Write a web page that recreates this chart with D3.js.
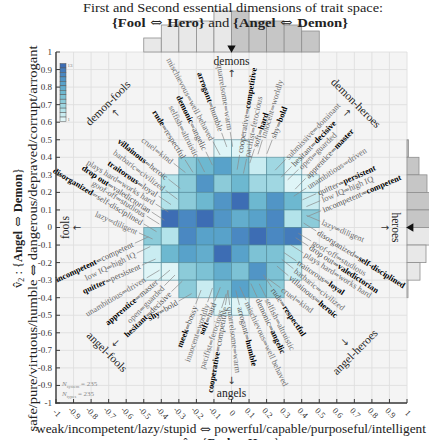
<!DOCTYPE html>
<html><head><meta charset="utf-8">
<script src="https://cdn.jsdelivr.net/npm/d3@7"></script>
<style>body{margin:0;background:#fff}svg{display:block}text{font-family:"Liberation Serif","DejaVu Serif",serif}.arr{font-family:"DejaVu Serif",serif}</style>
</head><body><svg id="c" width="429" height="440"></svg>
<script>
// ---------- data ----------
const tickValues = [-1,-0.9,-0.8,-0.7,-0.6,-0.5,-0.4,-0.3,-0.2,-0.1,0,0.1,0.2,0.3,0.4,0.5,0.6,0.7,0.8,0.9,1];
const tickLabels = ["-1","-0.9","-0.8","-0.7","-0.6","-0.5","-0.4","-0.3","-0.2","-0.1","0","0.1","0.2","0.3","0.4","0.5","0.6","0.7","0.8","0.9","1"];
const binEdges = [-0.5,-0.4,-0.3,-0.2,-0.1,0,0.1,0.2,0.3,0.4,0.5];
// heatmap counts, rows from top (v2 = 0.5..0.4) to bottom, columns from v1=-0.5 to 0.5
const heatCounts = [
  [0,0,0,0,1,1,0,0,0,0],
  [0,0,5,7,9,6,2,4,1,0],
  [0,3,5,10,5,7,4,4,1,1],
  [0,3,5,7,10,13,7,10,7,2],
  [0,13,11,13,10,8,9,11,3,5],
  [5,3,11,9,9,11,13,11,12,0],
  [2,7,9,8,13,9,6,6,3,0],
  [1,1,5,6,8,6,10,6,2,0],
  [0,0,5,2,6,9,7,5,0,0],
  [0,0,0,0,1,1,0,0,0,0]
];
const histTop = [14,27,31,31,41,41,31,31,27,21];      // per v1 bin
const histRight = [1.5,12,20,35,41,38,19,13,1,0];     // per v2 bin, top to bottom
const colorLevels = [13,12,11,10,9,8,7,6,5,4,3,2,1];
// trait pairs: [pole A, pole B, emphasised]
const pairs = [
  ["mischievous","well behaved",false],
  ["demonic","angelic",true],
  ["selfish","altruistic",false],
  ["arrogant","humble",true],
  ["quarrelsome","warm",false],
  ["rude","respectful",true],
  ["cruel","kind",false],
  ["villainous","heroic",true],
  ["barbaric","civilized",false],
  ["traitorous","loyal",true],
  ["plays hard","works hard",false],
  ["drop out","valedictorian",true],
  ["goof-off","studious",false],
  ["disorganized","self-disciplined",true],
  ["lazy","diligent",false],
  ["incompetent","competent",true],
  ["low IQ","high IQ",false],
  ["quitter","persistent",true],
  ["unambitious","driven",false],
  ["apprentice","master",true],
  ["open","guarded",false],
  ["hesitant","decisive",true],
  ["shy","bold",true],
  ["meek","bossy",true],
  ["innocent","worldly",false],
  ["soft","hard",true],
  ["pacifist","ferocious",false],
  ["cooperative","competitive",true],
  ["submissive","dominant",false]
];
// label placement of the "A ⇐ B" copy: [v1, v2, angle]  (null = not shown)
const placeA = [
  [-0.111,0.499,62],[-0.151,0.442,64],[-0.197,0.402,63],[-0.060,0.550,70],[-0.009,0.556,81],
  [-0.271,0.396,58],[-0.339,0.373,38],[-0.368,0.282,38],[-0.385,0.219,37],[-0.425,0.185,34],
  [-0.442,0.140,32],[-0.464,0.094,33],[-0.493,0.071,32],[-0.510,0.026,31],[-0.538,-0.026,24],
  [-0.561,-0.094,-25],[-0.550,-0.151,-26],[-0.521,-0.219,-24],[-0.493,-0.293,-31],[-0.425,-0.305,-40],
  [-0.390,-0.339,-45],[-0.350,-0.373,-44],[-0.311,-0.425,-30],[-0.208,-0.447,-69],[-0.140,-0.436,-71],
  [-0.100,-0.430,-68],[-0.060,-0.470,-72],[-0.037,-0.453,-80],null
];
// label placement of the "A ⇒ B" copy
const placeB = [
  [0.088,-0.425,65],[0.151,-0.407,65],[0.202,-0.407,63],[0.048,-0.453,76],[-0.009,-0.453,83],
  [0.236,-0.350,56],[0.288,-0.350,36],[0.333,-0.282,40],[0.362,-0.242,38.5],[0.379,-0.197,34],
  [0.419,-0.151,32.5],[0.447,-0.111,33],[0.464,-0.083,31],[0.493,-0.026,32],[0.516,0.031,23],
  [0.521,0.100,-23],[0.516,0.157,-23],[0.493,0.197,-24],[0.436,0.231,-33],[0.430,0.288,-46],
  [0.390,0.339,-44],[0.350,0.356,-46],[0.236,0.510,-69],null,[0.179,0.510,-73],
  [0.134,0.459,-72],[0.088,0.402,-78],[0.048,0.425,-80.6],[0.316,0.396,-46]
];

// ---------- scales ----------
const svg = d3.select("#c");
const xs = d3.scaleLinear().domain([-1,1]).range([56,407]);
const ys = d3.scaleLinear().domain([-1,1]).range([403,52]);
const color = d3.scaleLinear().domain([1,3,5,7,9,11,13])
  .range(["#dff5f7","#b3e3ea","#8ccbd9","#6db8d0","#58a2ca","#4a88c2","#3d6db4"]);
const histScale = d3.scaleLinear().domain([0,41]).range([0,41]);

// background + grid
svg.append("rect").attr("x",xs(-1)).attr("y",ys(1)).attr("width",xs(1)-xs(-1)).attr("height",ys(-1)-ys(1)).attr("fill","#f4f4f4");
const grid = svg.append("g").attr("stroke","#dfdfdf").attr("stroke-width",0.9);
tickValues.forEach(v=>{
  grid.append("line").attr("x1",xs(v)).attr("x2",xs(v)).attr("y1",ys(-1)).attr("y2",ys(1));
  grid.append("line").attr("y1",ys(v)).attr("y2",ys(v)).attr("x1",xs(-1)).attr("x2",xs(1));
});

// marginal histograms
const gh = svg.append("g").attr("stroke","#8e8e8e").attr("stroke-width",0.8);
histTop.forEach((h,i)=>{
  gh.append("rect").attr("x",xs(binEdges[i])).attr("width",xs(binEdges[i+1])-xs(binEdges[i]))
    .attr("y",ys(1)-histScale(h)).attr("height",histScale(h))
    .attr("fill", binEdges[i]>=0 ? "#c6c6c6" : "#e8e8e8");
});
histRight.forEach((h,i)=>{
  if(h<=0) return;
  const yTop = binEdges[10-i], yBot = binEdges[9-i];
  gh.append("rect").attr("x",xs(1)).attr("width",histScale(h))
    .attr("y",ys(yTop)).attr("height",ys(yBot)-ys(yTop))
    .attr("fill", yBot>=0 ? "#c6c6c6" : "#e8e8e8");
});
svg.append("path").attr("d",d3.symbol(d3.symbolTriangle,30)())
  .attr("transform",`translate(${xs(0)},${ys(1)-4}) rotate(180)`).attr("fill","#111");
svg.append("path").attr("d",d3.symbol(d3.symbolTriangle,30)())
  .attr("transform",`translate(${xs(1)+4},${ys(0)}) rotate(-90)`).attr("fill","#111");

// heatmap
const gm = svg.append("g");
heatCounts.forEach((row,r)=>{
  row.forEach((c,k)=>{
    if(!c) return;
    const yTop = binEdges[10-r], yBot = binEdges[9-r];
    gm.append("rect").attr("x",xs(binEdges[k])).attr("width",xs(binEdges[k+1])-xs(binEdges[k]))
      .attr("y",ys(yTop)).attr("height",ys(yBot)-ys(yTop))
      .attr("fill",color(c)).attr("stroke","#4f8796").attr("stroke-opacity",0.65).attr("stroke-width",0.9);
  });
});

// trait labels
const gLead = svg.append("g").attr("stroke","#8a8a8a").attr("stroke-width",0.7);
const gLab = svg.append("g").style("font-size","8.4px");
function drawLabel(pl, pr, side){
  if(!pl) return;
  const [x,y,a] = pl, px = xs(x), py = ys(y);
  const t = gLab.append("text").attr("transform",`translate(${px},${py}) rotate(${a})`)
    .attr("text-anchor", side<0 ? "end" : "start").attr("dy","0.33em");
  const bA = pr[2] && side<0, bB = pr[2] && side>0;
  const reg = pr[2] ? "#555" : "#6e6e6e";
  t.append("tspan").text(pr[0]).attr("font-weight",bA?"bold":null).attr("fill",bA?"#000":reg);
  t.append("tspan").attr("class","arr").text(side<0?"\u21D0":"\u21D2").attr("fill",reg).style("font-size","7px");
  t.append("tspan").text(pr[1]).attr("font-weight",bB?"bold":null).attr("fill",bB?"#000":reg);
  const rad = a*Math.PI/180, dir = side<0 ? 1 : -1;
  const ux = Math.cos(rad)*dir, uy = Math.sin(rad)*dir;
  gLead.append("line").attr("x1",px+ux*2).attr("y1",py+uy*2).attr("x2",px+ux*17).attr("y2",py+uy*17);
}
pairs.forEach((p,i)=>{ drawLabel(placeA[i],p,-1); drawLabel(placeB[i],p,1); });

// axes
const ax = svg.append("g").attr("stroke","#3a3a3a").attr("stroke-width",1.4);
ax.append("line").attr("x1",xs(-1)).attr("x2",xs(-1)).attr("y1",ys(1)).attr("y2",ys(-1)+0.7);
ax.append("line").attr("x1",xs(-1)-0.7).attr("x2",xs(1)).attr("y1",ys(-1)).attr("y2",ys(-1));
tickValues.forEach((v,i)=>{
  ax.append("line").attr("x1",xs(-1)).attr("x2",xs(-1)+4).attr("y1",ys(v)).attr("y2",ys(v)).attr("stroke-width",1);
  ax.append("line").attr("x1",xs(v)).attr("x2",xs(v)).attr("y1",ys(-1)).attr("y2",ys(-1)-4).attr("stroke-width",1);
  svg.append("text").attr("x",xs(-1)-4).attr("y",ys(v)).attr("dy","0.33em").attr("text-anchor","end")
    .style("font-size","9px").attr("fill","#333").text(tickLabels[i]);
  svg.append("text").attr("transform",`translate(${xs(v)+1},${ys(-1)+10}) rotate(45)`).attr("dy","0.33em")
    .attr("text-anchor","middle").style("font-size","8.5px").attr("fill","#333").text(tickLabels[i]);
});

// region labels
function regionLabel(x,y,rot,txt){
  svg.append("text").attr("transform",`translate(${xs(x)},${ys(y)}) rotate(${rot})`).attr("dy","0.33em")
    .attr("text-anchor","middle").style("font-size","11.5px").attr("fill","#222").text(txt);
}
regionLabel(-0.704,0.709,-45,"demon-fools");
regionLabel(0.709,0.709,45,"demon-heroes");
regionLabel(-0.709,-0.709,45,"angel-fools");
regionLabel(0.704,-0.709,-45,"angel-heroes");
regionLabel(0,0.949,0,"demons");
regionLabel(0,-0.943,0,"angels");
regionLabel(-0.949,0,-90,"fools");
regionLabel(0.937,0,90,"heroes");
function arrow(x,y,ch){
  svg.append("text").attr("x",xs(x)).attr("y",ys(y)).attr("dy","0.35em").attr("text-anchor","middle")
    .style("font-size","10px").attr("fill","#333").style("font-family","DejaVu Sans").text(ch);
}
arrow(-0.658,0.658,"\u2196"); arrow(0.658,0.658,"\u2197"); arrow(-0.658,-0.658,"\u2199"); arrow(0.645,-0.652,"\u2198");
arrow(0,0.88,"\u2191"); arrow(0,-0.869,"\u2193"); arrow(-0.88,0,"\u2190"); arrow(0.875,0,"\u2192");

// colour legend
const cb = svg.append("g");
const cbY = d3.scaleBand().domain(colorLevels).range([63.5,121.5]);
colorLevels.forEach(l=>{
  cb.append("rect").attr("x",60).attr("width",6).attr("y",cbY(l)).attr("height",cbY.bandwidth())
    .attr("fill",color(l)).attr("stroke","#555").attr("stroke-width",0.5);
});
cb.append("text").attr("x",67.5).attr("y",cbY(13)+3).style("font-size","5px").attr("fill","#777").text("13");
cb.append("text").attr("x",67.5).attr("y",cbY(1)+4).style("font-size","5px").attr("fill","#777").text("1");

// N labels
[["system",386],["types",396]].forEach(([s,y])=>{
  const t = svg.append("text").attr("x",62).attr("y",y).style("font-size","7px").attr("fill","#8a8a8a");
  t.append("tspan").text("N").style("font-style","italic");
  t.append("tspan").text(s).style("font-size","4.5px").attr("dy","1.5");
  t.append("tspan").text(" = 235").attr("dy","-1.5");
});

// titles
svg.append("text").attr("x",233).attr("y",12).attr("text-anchor","middle").style("font-size","13px").attr("fill","#222")
  .attr("textLength",300).attr("lengthAdjust","spacingAndGlyphs").text("First and Second essential dimensions of trait space:");
const t2 = svg.append("text").attr("x",230).attr("y",27).attr("text-anchor","middle").style("font-size","13px").attr("fill","#222")
  .attr("textLength",236).attr("lengthAdjust","spacingAndGlyphs");
t2.append("tspan").text("{Fool").attr("font-weight","bold");
t2.append("tspan").attr("class","arr").text(" \u21D4 ");
t2.append("tspan").text("Hero}").attr("font-weight","bold");
t2.append("tspan").text(" and ");
t2.append("tspan").text("{Angel").attr("font-weight","bold");
t2.append("tspan").attr("class","arr").text(" \u21D4 ");
t2.append("tspan").text("Demon}").attr("font-weight","bold");

// axis titles
const xl1 = svg.append("text").attr("x",231).attr("y",433).attr("text-anchor","middle").style("font-size","12px").attr("fill","#222")
  .attr("textLength",390).attr("lengthAdjust","spacingAndGlyphs");
xl1.append("tspan").text("weak/incompetent/lazy/stupid ");
xl1.append("tspan").attr("class","arr").text("\u21D4");
xl1.append("tspan").text(" powerful/capable/purposeful/intelligent");
const xl2 = svg.append("text").attr("x",231).attr("y",447).attr("text-anchor","middle").style("font-size","12px").attr("fill","#222");
xl2.append("tspan").text("v\u0302");
xl2.append("tspan").text("1").style("font-size","8px").attr("dy",2);
xl2.append("tspan").text(" : {").attr("dy",-2);
xl2.append("tspan").text("Fool").attr("font-weight","bold");
xl2.append("tspan").attr("class","arr").text(" \u21D4 ");
xl2.append("tspan").text("Hero").attr("font-weight","bold");
xl2.append("tspan").text("}");

const yl1 = svg.append("text").attr("transform","translate(37,238.5) rotate(-90)").attr("text-anchor","middle").style("font-size","12px").attr("fill","#222")
  .attr("textLength",386).attr("lengthAdjust","spacingAndGlyphs");
yl1.append("tspan").text("safe/pure/virtuous/humble ");
yl1.append("tspan").attr("class","arr").text("\u21D4");
yl1.append("tspan").text(" dangerous/depraved/corrupt/arrogant");
const yl2 = svg.append("text").attr("transform","translate(22,228) rotate(-90)").attr("text-anchor","middle").style("font-size","12.5px").attr("fill","#222");
yl2.append("tspan").text("v\u0302");
yl2.append("tspan").text("2").style("font-size","8px").attr("dy",2);
yl2.append("tspan").text(" : {").attr("dy",-2);
yl2.append("tspan").text("Angel").attr("font-weight","bold");
yl2.append("tspan").attr("class","arr").text(" \u21D4 ");
yl2.append("tspan").text("Demon").attr("font-weight","bold");
yl2.append("tspan").text("}");
</script></body></html>
